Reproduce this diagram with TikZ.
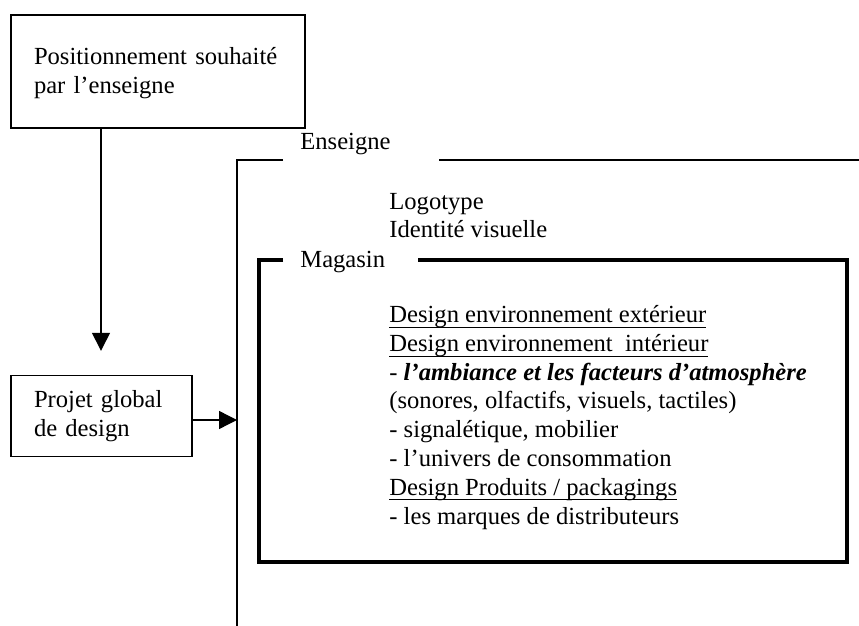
\documentclass[tikz,border=0pt]{standalone}
\usepackage{fontspec}
\setmainfont{Liberation Serif}
\usetikzlibrary{arrows.meta}

\newcommand{\ulin}[1]{\setbox0\hbox{#1}\rlap{\rule[-2.6pt]{\wd0}{0.6pt}}\box0}

\begin{document}
\begin{tikzpicture}
    [x=0.5pt, y=-0.5pt,
     every node/.style={inner sep=0pt, font=\fontsize{12.3}{14.35}\selectfont},
     box/.style={draw, line width=0.7pt, align=left, inner xsep=11.5pt},
     line/.style={line width=0.7pt},
     magline/.style={line width=1.6pt, line join=miter},
     arr/.style={line width=0.7pt, -{Triangle[width=9pt,length=9pt]}},
     txt/.style={anchor=base west}]
    \useasboundingbox (0,0) rectangle (859,626);
    \node[box, text width=124pt, minimum height=56.5pt] (pos) at (158,71.5) {\strut Positionnement souhaité\\par l’enseigne};
    \node[box, text width=67.5pt, minimum height=40.5pt] (projet) at (101.5,416) {Projet global\\de design};
    \coordinate (down) at (101,0);
    \coordinate (frame) at (237,0);
    \draw[arr, shorten >=12pt] (pos.south -| down) -- (projet.north -| down);
    \draw[arr] ([yshift=-2pt]projet.east) -- ([yshift=-2pt]projet.east -| frame);
    % enseigne
    \node[txt] (enseigne) at (300,150) {Enseigne};
    \draw[line] (283,160) -- (237,160) -- (237,626);
    \draw[line] (439,160) -- (859,160);
    \node[txt] (logo) at (389,210) {Logotype};
    \node[txt] (ident) at (389,238) {Identité visuelle};
    % magasin
    \node[txt] (magasin) at (300,268) {Magasin};
    \draw[magline] (283,260) -- (259,260) -- (259,562) -- (847,562) -- (847,260) -- (418,260);
    \node[txt] (l1) at (389,323) {\ulin{Design environnement extérieur}};
    \node[txt] (l2) at (389,351.7) {\ulin{Design environnement\ \ intérieur}};
    \node[txt] (l3) at (389,380.4) {- \textbf{\textit{l’ambiance et les facteurs d’atmosphère}}};
    \node[txt] (l4) at (389,409) {(sonores, olfactifs, visuels, tactiles)};
    \node[txt] (l5) at (389,437.8) {- signalétique, mobilier};
    \node[txt] (l6) at (389,466.5) {- l’univers de consommation};
    \node[txt] (l7) at (389,495) {\ulin{Design Produits / packagings}};
    \node[txt] (l8) at (389,524) {- les marques de distributeurs};
  \end{tikzpicture}
\end{document}
